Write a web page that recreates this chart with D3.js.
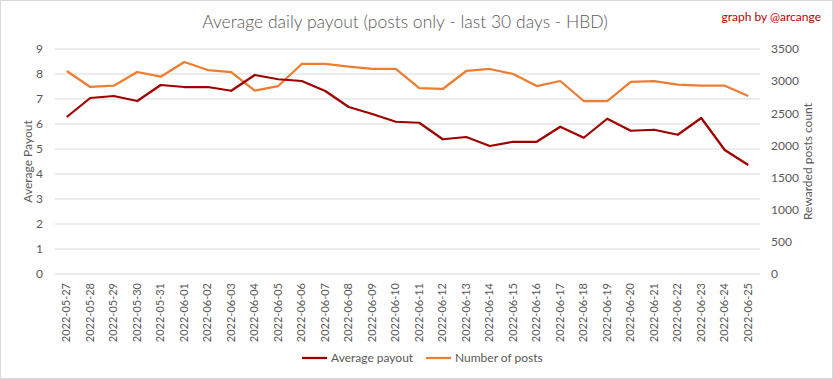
<!DOCTYPE html>
<html><head><meta charset="utf-8">
<script src="https://cdn.jsdelivr.net/npm/d3@7"></script>
<style>body{margin:0;background:#fff}svg{display:block}text{font-family:Lato,"Open Sans",sans-serif}</style>
</head><body>
<script>
const dates = ["2022-05-27","2022-05-28","2022-05-29","2022-05-30","2022-05-31","2022-06-01","2022-06-02","2022-06-03","2022-06-04","2022-06-05","2022-06-06","2022-06-07","2022-06-08","2022-06-09","2022-06-10","2022-06-11","2022-06-12","2022-06-13","2022-06-14","2022-06-15","2022-06-16","2022-06-17","2022-06-18","2022-06-19","2022-06-20","2022-06-21","2022-06-22","2022-06-23","2022-06-24","2022-06-25"];
const avgPayout = [6.28,7.04,7.12,6.92,7.56,7.48,7.48,7.33,7.96,7.79,7.72,7.32,6.68,6.40,6.09,6.05,5.39,5.48,5.12,5.29,5.29,5.89,5.45,6.21,5.73,5.77,5.57,6.24,4.96,4.36];
const numPosts = [3158,2909,2929,3142,3069,3298,3173,3142,2852,2924,3267,3267,3225,3189,3189,2893,2878,3158,3189,3111,2924,3002,2691,2691,2987,3002,2945,2929,2929,2769];
const leftTicks = [0,1,2,3,4,5,6,7,8,9];
const rightTicks = [0,500,1000,1500,2000,2500,3000,3500];

const W = 833, H = 379;
const m = {l:55, r:73, t:49, b:105};
const svg = d3.select("body").append("svg").attr("width",W).attr("height",H);
svg.append("rect").attr("x",0.5).attr("y",0.5).attr("width",W-1).attr("height",H-1).attr("fill","#fff").attr("stroke","#d9d9d9");

const x = d3.scaleBand().domain(dates).range([m.l, W-m.r]);
const yL = d3.scaleLinear().domain([0,9]).range([H-m.b, m.t]);
const yR = d3.scaleLinear().domain([0,3500]).range([H-m.b, m.t]);
const txt = "#595959";

// grid
svg.append("g").selectAll("line").data(leftTicks).join("line")
  .attr("x1",m.l).attr("x2",W-m.r).attr("y1",d=>yL(d)).attr("y2",d=>yL(d))
  .attr("stroke","#d9d9d9").attr("stroke-width",1);

// left axis
const gl = svg.append("g").attr("transform",`translate(${m.l},0)`)
  .call(d3.axisLeft(yL).tickValues(leftTicks).tickSize(0).tickPadding(12));
gl.select(".domain").remove();
gl.selectAll("text").attr("fill",txt).style("font-size","12px").style("font-family","Lato");

const gr = svg.append("g").attr("transform",`translate(${W-m.r},0)`)
  .call(d3.axisRight(yR).tickValues(rightTicks).tickFormat(d3.format("d")).tickSize(0).tickPadding(11));
gr.select(".domain").remove();
gr.selectAll("text").attr("fill",txt).style("font-size","12px").style("font-family","Lato");

// x axis
const gx = svg.append("g").attr("transform",`translate(0,${H-m.b})`)
  .call(d3.axisBottom(x).tickSize(0).tickPadding(0));
gx.select(".domain").remove();
gx.selectAll("text").attr("fill",txt).style("font-size","11px").style("font-family","Lato")
  .attr("transform","rotate(-90)").attr("text-anchor","end").attr("dx","-9").attr("dy","0.32em").attr("y",0).attr("x",0);

// lines
const cx = d => x(d) + x.bandwidth()/2;
svg.append("path").datum(numPosts.map((v,i)=>[dates[i],v]))
  .attr("fill","none").attr("stroke","#ED7D31").attr("stroke-width",2.25).attr("stroke-linejoin","round")
  .attr("d", d3.line().x(d=>cx(d[0])).y(d=>yR(d[1])));
svg.append("path").datum(avgPayout.map((v,i)=>[dates[i],v]))
  .attr("fill","none").attr("stroke","#9E0000").attr("stroke-width",2.25).attr("stroke-linejoin","round")
  .attr("d", d3.line().x(d=>cx(d[0])).y(d=>yL(d[1])));

// titles
svg.append("text").attr("x",405).attr("y",28).attr("text-anchor","middle").attr("fill",txt)
  .style("font-size","17.5px").style("font-weight","300").text("Average daily payout (posts only - last 30 days - HBD)");
svg.append("text").attr("x",821).attr("y",21).attr("text-anchor","end").attr("fill","#C00000")
  .style("font-size","12px").text("graph by @arcange");
svg.append("text").attr("transform",`translate(32,${(m.t+H-m.b)/2}) rotate(-90)`).attr("text-anchor","middle").attr("fill",txt)
  .style("font-size","12px").text("Average Payout");
svg.append("text").attr("transform",`translate(812,${(m.t+H-m.b)/2}) rotate(-90)`).attr("text-anchor","middle").attr("fill",txt)
  .style("font-size","12px").text("Rewarded posts count");

// legend
const leg = [["Average payout","#9E0000",302],["Number of posts","#ED7D31",426]];
const lg = svg.append("g");
leg.forEach(([t,c,lx])=>{
  lg.append("line").attr("x1",lx).attr("x2",lx+25).attr("y1",358).attr("y2",358).attr("stroke",c).attr("stroke-width",2.25);
  lg.append("text").attr("x",lx+29).attr("y",362).attr("fill",txt).style("font-size","12px").text(t);
});
</script>
</body></html>
